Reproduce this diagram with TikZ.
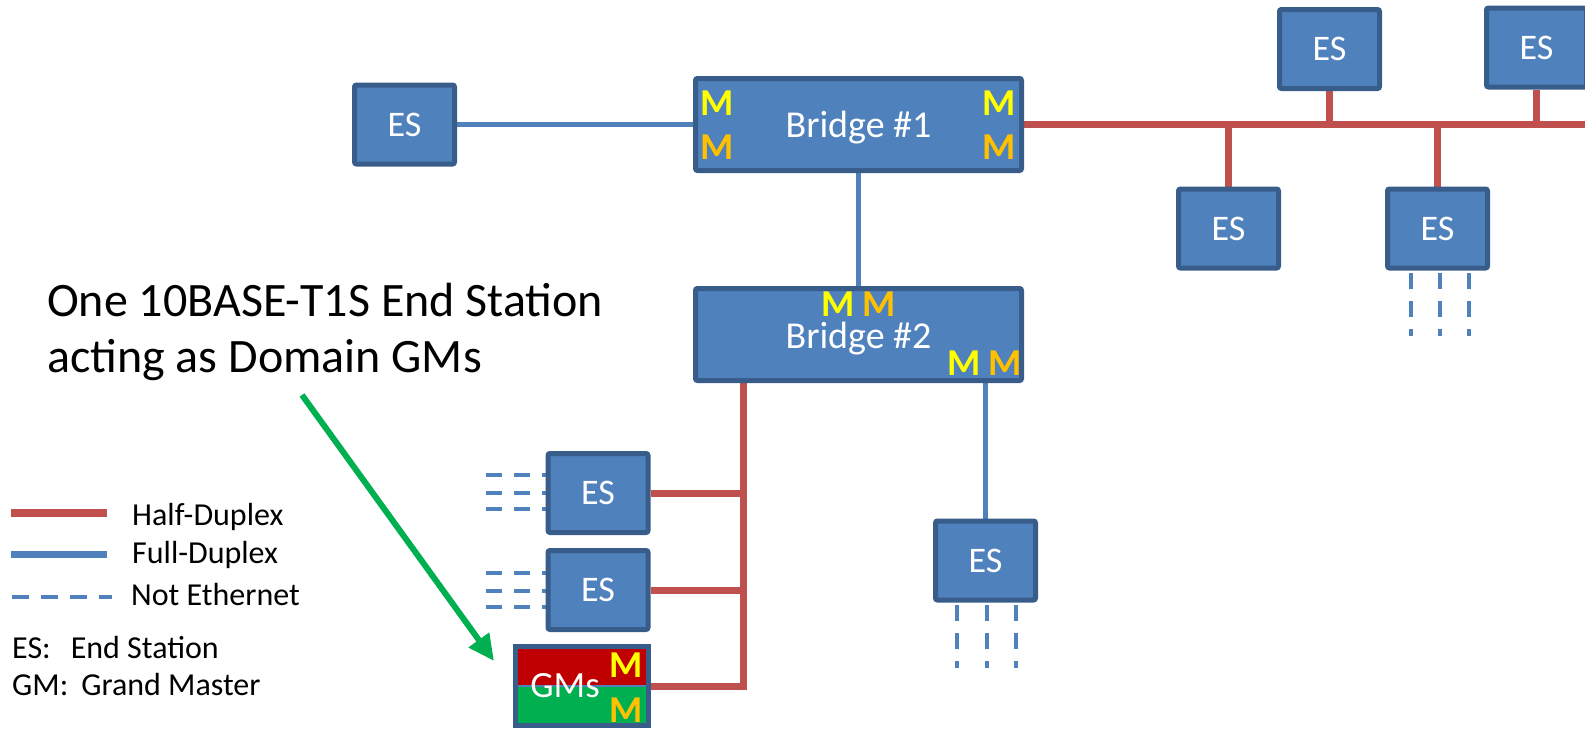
\documentclass[tikz,border=0pt]{standalone}
\usepackage{fontspec}
\setmainfont{Carlito}
\usetikzlibrary{arrows.meta,calc}
\definecolor{boxfill}{HTML}{4F81BD}
\definecolor{boxline}{HTML}{385D8A}
\definecolor{hdc}{HTML}{C0504D}
\definecolor{fdc}{HTML}{4F81BD}
\definecolor{myyellow}{HTML}{FFFF00}
\definecolor{myorange}{HTML}{FFC000}
\definecolor{gmred}{HTML}{C00000}
\definecolor{gmgreen}{HTML}{00B050}
\pgfdeclarelayer{background}
\pgfsetlayers{background,main}
\tikzset{
  box/.style={draw=boxline, fill=boxfill, line width=5pt, rounded corners=2pt, inner sep=0pt,
    text=white, font=\fontsize{36}{43}\selectfont},
  es/.style={box, minimum width=100pt, minimum height=79pt},
  bridge/.style={box, minimum width=326pt, minimum height=92pt, text depth=0pt,
    font=\fontsize{38}{45}\selectfont},
  gmbox/.style={draw=boxline, line width=5pt, inner sep=0pt, text=white,
    font=\fontsize{37}{44}\selectfont, minimum width=133pt, minimum height=79pt,
    path picture={
      \fill[gmred] (path picture bounding box.north west) rectangle (path picture bounding box.east);
      \fill[gmgreen] (path picture bounding box.west) rectangle (path picture bounding box.south east);
      \draw[fdc, line width=1.5pt] (path picture bounding box.west) -- (path picture bounding box.east);}},
  mk/.style={font=\bfseries\fontsize{38}{44}\selectfont, inner sep=0pt},
  mky/.style={mk, text=myyellow},
  mko/.style={mk, text=myorange},
  hdline/.style={draw=hdc, line width=7pt},
  fdline/.style={draw=fdc, line width=5pt},
  neline/.style={draw=fdc, line width=4pt, dash pattern=on 16pt off 12pt},
  legtext/.style={anchor=base west, inner sep=0pt, font=\fontsize{32}{38}\selectfont},
  bigtext/.style={anchor=base west, inner sep=0pt, font=\fontsize{48}{58}\selectfont},
  greenarrow/.style={draw=gmgreen, line width=6pt, -{Triangle[length=26pt,width=24pt]}},
}
\begin{document}
\begin{tikzpicture}[x=1pt,y=-1pt]
\useasboundingbox (0,0) rectangle (1585,729);
\clip (0,0) rectangle (1585,729);

% nodes
\node[es] (ESL) at (404.5,124.5) {ES};
\node[bridge, text height=25pt] (B1) at (858.5,124.5) {Bridge \#1};
\node[bridge, text height=28pt] (B2) at (858.5,334.5) {Bridge \#2};
\node[es] (ESt1) at (1329.5,49) {ES};
\node[es] (ESt2) at (1536.5,47.5) {ES};
\node[es] (ESb1) at (1228.5,228.5) {ES};
\node[es] (ESb2) at (1437.5,228.5) {ES};
\node[es] (ESr) at (985.5,560.5) {ES};
\node[es] (ES1) at (598,493) {ES};
\node[es] (ES2) at (598,590) {ES};
\node[gmbox] (GMs) at (582,686) {GMs\kern 34pt\relax};

% M markers
\node[mky] (m1) at (717.5,103.5) {M};
\node[mko] (m2) at (717.5,147.5) {M};
\node[mky] (m3) at (999,103.5) {M};
\node[mko] (m4) at (999,147.5) {M};
\node[mky] (m5) at (838.5,304) {M};
\node[mko] (m6) at (879,304) {M};
\node[mky] (m7) at (964,363.5) {M};
\node[mko] (m8) at (1005.5,363.5) {M};
\node[mky] (m9) at (626,665) {M};
\node[mko] (m10) at (626,710.5) {M};

\coordinate (trk) at (743,0);
\coordinate (busend) at (1600,124.5);

\begin{pgfonlayer}{background}
\draw[fdline] (ESL.east) -- (B1.west);
\draw[fdline] (B1.south) -- (B2.north);
\draw[hdline] (B1.east) -- (busend);
\draw[hdline] (ESt1.south) -- (ESt1.south |- B1.east);
\draw[hdline] (ESt2.south) -- (ESt2.south |- B1.east);
\draw[hdline] (ESb1.north) -- (ESb1.north |- B1.east);
\draw[hdline] (ESb2.north) -- (ESb2.north |- B1.east);
\draw[hdline] (B2.south -| trk) |- (GMs.east);
\draw[hdline] (ES1.east) -- (ES1.east -| trk);
\draw[hdline] (ES2.east) -- (ES2.east -| trk);
\draw[fdline] (B2.south -| ESr.north) -- (ESr.north);
% not-ethernet stubs
\foreach \dx in {-27,2,31} {
  \draw[neline] ($(ESb2.south)+(\dx,2.5)$) -- ++(0,63);
}
\foreach \dx in {-28.5,1.5,30.5} {
  \draw[neline] ($(ESr.south)+(\dx,2.5)$) -- ++(0,63);
}
\foreach \dy in {-18,0,16} {
  \draw[neline] ($(ES1.west)+(-59.5,\dy)$) -- ($(ES1.west)+(0,\dy)$);
}
\foreach \dy in {-17,1,17} {
  \draw[neline] ($(ES2.west)+(-59.5,\dy)$) -- ($(ES2.west)+(0,\dy)$);
}
\end{pgfonlayer}

% annotation
\node[bigtext] (t1) at (47,316) {One 10BASE-T1S End Station};
\node[bigtext] (t2) at (47,372) {acting as Domain GMs};
\coordinate (arrS) at (302,395);
\coordinate (arrE) at (494,661);
\draw[greenarrow] (arrS) -- (arrE);

% legend
\draw[draw=hdc, line width=8pt] (11,513) -- (107,513);
\draw[draw=fdc, line width=7pt] (11,554) -- (107,554);
\draw[draw=fdc, line width=4pt, dash pattern=on 17pt off 12pt] (12,597) -- (112,597);
\node[legtext] (l1) at (132,525) {Half-Duplex};
\node[legtext] (l2) at (132,563) {Full-Duplex};
\node[legtext] (l3) at (131,605) {Not Ethernet};
\node[legtext] (l4) at (12,658) {ES:\hspace{20pt}End Station};
\node[legtext] (l5) at (12,695) {GM:\hspace{13pt}Grand Master};
\end{tikzpicture}
\end{document}
